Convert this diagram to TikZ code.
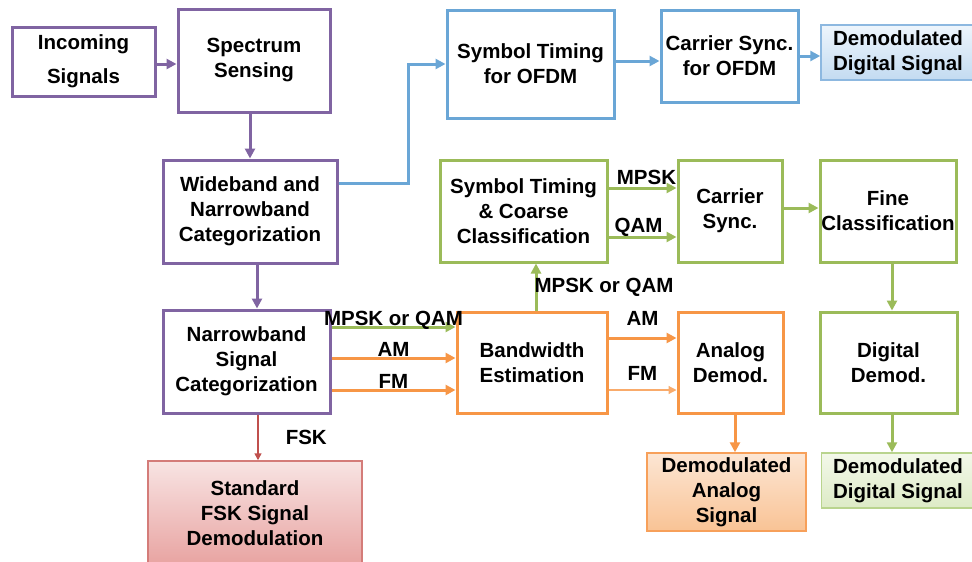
\documentclass[tikz,border=0pt]{standalone}
\usepackage{fontspec}
\setmainfont{Liberation Sans}
\usetikzlibrary{arrows.meta,calc}

\definecolor{lilac}{HTML}{8064A2}
\definecolor{skyline}{HTML}{6AA6D6}
\definecolor{leaf}{HTML}{9BBB59}
\definecolor{tangerine}{HTML}{F79646}
\definecolor{brick}{HTML}{C0504D}
\definecolor{skytop}{HTML}{EEF5FC}
\definecolor{skybot}{HTML}{C3DBF1}
\definecolor{skyedge}{HTML}{8DB8E0}
\definecolor{bricktop}{HTML}{F8E4E3}
\definecolor{brickbot}{HTML}{E8A3A1}
\definecolor{brickedge}{HTML}{D47C79}
\definecolor{tantop}{HTML}{FCE6D4}
\definecolor{tanbot}{HTML}{F9C395}
\definecolor{tanedge}{HTML}{F7A05A}
\definecolor{leaftop}{HTML}{F3F8EA}
\definecolor{leafbot}{HTML}{DDEBC6}
\definecolor{leafedge}{HTML}{B9D48E}

\begin{document}
\begin{tikzpicture}[x=1pt, y=-1pt]
  \tikzset{
      > = {Stealth[inset=0pt, length=10pt, width=10pt]},
      every node/.append style = {
          text = black,
          font = \fontsize{20.5}{25}\selectfont\bfseries
      },
      blk/.style = {
          draw, line width = 3pt, align = center, inner sep = 0pt
      },
      outbox/.style = {
          blk, line width = 1.5pt
      },
      flow/.style = {
          line width = 3pt, arrows = ->
      },
      lbl/.style = {
          inner sep = 0pt, anchor = base
      }
  }
  \path[use as bounding box, fill=white] (0,0) rectangle (972,562);

  % front end
  \node[blk, draw=lilac, minimum width=143, minimum height=69] (inc) at (83.5,61.5) {Incoming\\[9pt]Signals};
  \node[blk, draw=lilac, minimum width=152, minimum height=103] (spec) at (254,60.5) {Spectrum\\Sensing};
  \node[blk, draw=lilac, minimum width=174, minimum height=103] (wide) at (250,211.5) {Wideband and\\Narrowband\\Categorization};
  \node[blk, draw=lilac, minimum width=167, minimum height=103] (narrow) at (246.5,361.5) {Narrowband\\Signal\\Categorization};
  \node[outbox, draw=brickedge, top color=bricktop, bottom color=brickbot, minimum width=214, minimum height=104] (fsk) at (255,513) {Standard\\FSK Signal\\Demodulation};

  % OFDM branch
  \node[blk, draw=skyline, minimum width=167, minimum height=108] (stofdm) at (530.5,64) {Symbol Timing\\for OFDM};
  \node[blk, draw=skyline, minimum width=137, minimum height=92] (csofdm) at (729.5,56) {Carrier Sync.\\for OFDM};
  \node[outbox, draw=skyedge, top color=skytop, bottom color=skybot, minimum width=154, minimum height=55] (ddsb) at (898,52.5) {Demodulated\\Digital Signal};

  % digital branch
  \node[blk, draw=leaf, minimum width=167, minimum height=102] (stcc) at (523.5,211) {Symbol Timing\\\& Coarse\\Classification};
  \node[blk, draw=leaf, minimum width=104, minimum height=102] (cs) at (730,211) {Carrier\\Sync.};
  \node[blk, draw=leaf, minimum width=136, minimum height=102] (fine) at (888,211) {Fine\\Classification};
  \node[blk, draw=leaf, minimum width=137, minimum height=101] (dd) at (888.5,362.5) {Digital\\Demod.};
  \node[outbox, draw=leafedge, top color=leaftop, bottom color=leafbot, minimum width=153, minimum height=55] (ddsg) at (898,480.5) {Demodulated\\Digital Signal};

  % analog branch
  \node[blk, draw=tangerine, minimum width=150, minimum height=101] (bw) at (532,362.5) {Bandwidth\\Estimation};
  \node[blk, draw=tangerine, minimum width=105, minimum height=101] (ad) at (730.5,362.5) {Analog\\Demod.};
  \node[outbox, draw=tanedge, top color=tantop, bottom color=tanbot, minimum width=159, minimum height=78] (das) at (726.5,492) {Demodulated\\Analog\\Signal};

  \coordinate (wn) at ($(wide.south)+(7,0)$);
  \coordinate (wb) at ($(wide.east)+(0,-28.5)$);
  \coordinate (so) at ($(stofdm.east)+(0,-3)$);
  \coordinate (nf) at ($(fsk.north)+(3,0)$);
  \coordinate (n1) at ($(narrow.east)+(0,-34.5)$);
  \coordinate (n2) at ($(narrow.east)+(0,-3.5)$);
  \coordinate (n3) at ($(narrow.east)+(0,28.5)$);
  \coordinate (bu) at ($(bw.north)+(4,0)$);
  \coordinate (s1) at ($(stcc.east)+(0,-23)$);
  \coordinate (s2) at ($(stcc.east)+(0,26)$);
  \coordinate (b1) at ($(bw.east)+(0,-24.5)$);
  \coordinate (b2) at ($(bw.east)+(0,27.5)$);
  \coordinate (ab) at ($(ad.south)+(4.5,0)$);
  \coordinate (db) at ($(dd.south)+(3.5,0)$);

  \draw[flow, lilac] (inc.east |- 0,64) -- (spec.west |- 0,64);
  \draw[flow, lilac] (wide.north |- spec.south) -- (wide.north);
  \draw[flow, lilac] (wn) -- (wn |- narrow.north);
  \draw[flow, skyline] (wb) -- ++(70,0) |- (stofdm.west);
  \draw[flow, skyline] (so) -- (so -| csofdm.west);
  \draw[flow, skyline] (csofdm.east) -- (csofdm.east -| ddsb.west);
  \draw[line width=1.5pt, brick, -{Stealth[inset=0pt, length=7pt, width=7pt]}] (nf |- narrow.south) -- (nf)
      node[midway, right=27pt, inner sep=0pt] {FSK};
  \draw[flow, leaf] (n1) -- (n1 -| bw.west)
      node[lbl, midway, yshift=2pt] {MPSK or QAM};
  \draw[flow, tangerine] (n2) -- (n2 -| bw.west)
      node[lbl, midway, yshift=1.5pt] {AM};
  \draw[flow, tangerine] (n3) -- (n3 -| bw.west)
      node[lbl, midway, yshift=1.5pt] {FM};
  \draw[flow, leaf] (bu) -- (bu |- stcc.south)
      node[midway, anchor=west, inner sep=0pt, xshift=-3pt] {MPSK or QAM};
  \draw[flow, leaf] (s1) -- (s1 -| cs.west)
      node[lbl, midway, xshift=4pt, yshift=4pt] {MPSK};
  \draw[flow, leaf] (s2) -- (s2 -| cs.west)
      node[lbl, midway, xshift=-4pt, yshift=5pt] {QAM};
  \draw[flow, leaf] (cs.east |- 0,208) -- (fine.west |- 0,208);
  \draw[flow, leaf] (fine.south -| db) -- (db |- dd.north);
  \draw[flow, leaf] (db) -- (db |- ddsg.north);
  \draw[flow, tangerine] (b1) -- (b1 -| ad.west)
      node[lbl, midway, yshift=13pt] {AM};
  \draw[line width=1.2pt, tangerine!80, -{Stealth[inset=0pt, length=8pt, width=8pt]}] (b2) -- (b2 -| ad.west)
      node[lbl, midway, yshift=10pt] {FM};
  \draw[flow, tangerine] (ab) -- (ab |- das.north);
\end{tikzpicture}
\end{document}
